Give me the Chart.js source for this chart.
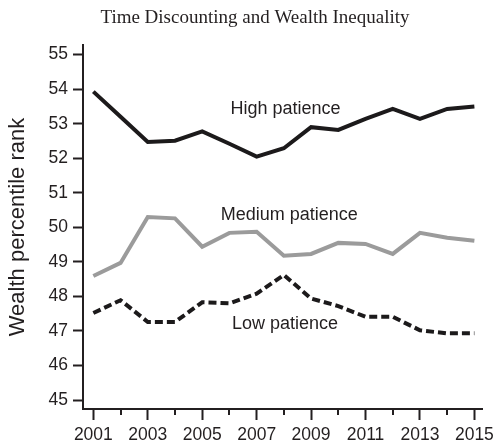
<!DOCTYPE html>
<html>
<head>
<meta charset="utf-8">
<script src="https://cdn.jsdelivr.net/npm/chart.js@4.4.1/dist/chart.umd.min.js"></script>
<style>
    html, body { margin: 0; padding: 0; background: #fff; }
    #wrap { width: 493px; height: 444px; }
</style>
</head>
<body>
<div id="wrap"><canvas id="patienceChart" width="493" height="444"></canvas></div>
<script>
const years = [2001, 2002, 2003, 2004, 2005, 2006, 2007, 2008, 2009, 2010, 2011, 2012, 2013, 2014, 2015];
const highPatience = [53.93, 53.2, 52.47, 52.51, 52.78, 52.42, 52.05, 52.29, 52.9, 52.82, 53.14, 53.43, 53.14, 53.43, 53.5];
const mediumPatience = [48.59, 48.97, 50.3, 50.26, 49.44, 49.84, 49.87, 49.18, 49.23, 49.55, 49.52, 49.23, 49.84, 49.7, 49.61];
const lowPatience = [47.52, 47.89, 47.26, 47.26, 47.83, 47.8, 48.08, 48.62, 47.94, 47.72, 47.41, 47.41, 47.02, 46.93, 46.93];
const yTicks = [45, 46, 47, 48, 49, 50, 51, 52, 53, 54, 55];

const axisColor = '#231f20';
const sansFont = '"Liberation Sans", Arial, sans-serif';

// series labels sit inside the plot, placed in data units
const seriesLabels = [
    { text: 'High patience', x: 2008.06, y: 53.42 },
    { text: 'Medium patience', x: 2008.2, y: 50.36 },
    { text: 'Low patience', x: 2008.04, y: 47.2 }
];

function toPoints(values) {
    return values.map((v, i) => ({ x: years[i], y: v }));
}

const extras = {
    id: 'extras',
    afterDraw(chart) {
        const c = chart.ctx;
        const xs = chart.scales.x;
        const ys = chart.scales.y;
        c.save();

        // short minor ticks on even years
        c.strokeStyle = axisColor;
        c.lineWidth = 2;
        years.filter(y => y % 2 === 0).forEach(y => {
            const px = Math.round(xs.getPixelForValue(y));
            c.beginPath();
            c.moveTo(px, chart.chartArea.bottom);
            c.lineTo(px, chart.chartArea.bottom + 6);
            c.stroke();
        });

        c.fillStyle = axisColor;
        c.font = '18px ' + sansFont;
        c.textAlign = 'center';
        c.textBaseline = 'middle';
        seriesLabels.forEach(l => {
            c.fillText(l.text, xs.getPixelForValue(l.x), ys.getPixelForValue(l.y));
        });

        c.font = '19px "Liberation Serif", "Times New Roman", serif';
        c.fillText('Time Discounting and Wealth Inequality', 255, 18);
        c.restore();
    }
};

const ctx = document.getElementById('patienceChart').getContext('2d');
const chart = new Chart(ctx, {
    type: 'line',
    data: {
        datasets: [
            {
                label: 'High patience',
                data: toPoints(highPatience),
                borderColor: '#1c1a1b',
                borderWidth: 4,
                pointRadius: 0,
                tension: 0
            },
            {
                label: 'Medium patience',
                data: toPoints(mediumPatience),
                borderColor: '#9b9b9b',
                borderWidth: 4,
                pointRadius: 0,
                tension: 0
            },
            {
                label: 'Low patience',
                data: toPoints(lowPatience),
                borderColor: '#1c1a1b',
                borderWidth: 4,
                borderDash: [8, 4],
                pointRadius: 0,
                tension: 0
            }
        ]
    },
    options: {
        responsive: false,
        animation: false,
        layout: { padding: { top: 45, right: 11, bottom: 0, left: 0 } },
        plugins: {
            legend: { display: false },
            title: { display: false },
            tooltip: { enabled: false }
        },
        scales: {
            x: {
                type: 'linear',
                min: 2000.62,
                max: 2015.28,
                afterBuildTicks: scale => {
                    scale.ticks = years.map(v => ({ value: v }));
                },
                afterFit: scale => {
                    scale.height = 35;
                    scale.paddingLeft = 0;
                    scale.paddingRight = 0;
                },
                ticks: {
                    color: axisColor,
                    font: { family: sansFont, size: 17.5 },
                    padding: 5,
                    maxRotation: 0,
                    autoSkip: false,
                    callback: v => (v % 2 === 1 ? String(v) : '')
                },
                grid: {
                    drawOnChartArea: false,
                    tickLength: 11,
                    tickWidth: 2,
                    tickColor: c => (c.tick && c.tick.value % 2 === 1 ? axisColor : 'rgba(0,0,0,0)')
                },
                border: { color: axisColor, width: 2 }
            },
            y: {
                type: 'linear',
                min: 44.74,
                max: 55.28,
                afterBuildTicks: scale => {
                    scale.ticks = yTicks.map(v => ({ value: v }));
                },
                afterFit: scale => {
                    scale.width = 83;
                    scale.paddingTop = 0;
                    scale.paddingBottom = 0;
                },
                ticks: {
                    color: axisColor,
                    font: { family: sansFont, size: 17.5 },
                    padding: 5
                },
                grid: {
                    drawOnChartArea: false,
                    tickLength: 10,
                    tickWidth: 2,
                    tickColor: axisColor
                },
                border: { color: axisColor, width: 2 },
                title: {
                    display: true,
                    text: 'Wealth percentile rank',
                    color: axisColor,
                    font: { family: sansFont, size: 22 },
                    padding: { top: 5, bottom: 0 }
                }
            }
        }
    },
    plugins: [extras]
});
</script>
</body>
</html>
